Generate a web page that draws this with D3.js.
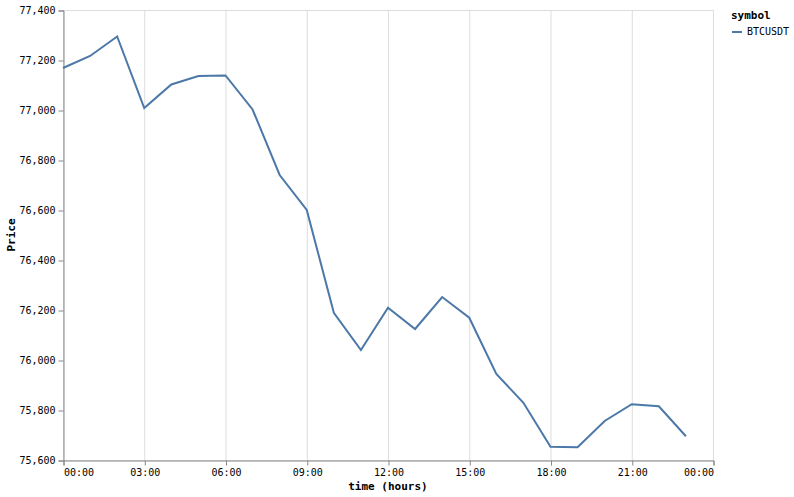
<!DOCTYPE html>
<html><head><meta charset="utf-8">
<script src="https://cdn.jsdelivr.net/npm/d3@7"></script>
<style>body{margin:0;background:#fff}svg{display:block}text{font-family:"DejaVu Sans Mono",monospace}</style>
</head><body><svg id="c" width="794" height="497"></svg>
<script>
const hours = [0,1,2,3,4,5,6,7,8,9,10,11,12,13,14,15,16,17,18,19,20,21,22,23];
const prices = [77168,77216,77294,77008,77102,77136,77138,77002,76740,76600,76189,76040,76209,76124,76252,76169,75944,75829,75653,75651,75756,75823,75815,75695];
const symbols = ["BTCUSDT"];
const yTicks = [75600,75800,76000,76200,76400,76600,76800,77000,77200,77400];
const xTickHours = [0,3,6,9,12,15,18,21,24];

const svg = d3.select("#c");
const m = {l:63, t:10, w:650, h:450};
const x = d3.scaleLinear().domain([0,24]).range([m.l, m.l+m.w]);
const y = d3.scaleLinear().domain([75600,77400]).range([m.t+m.h, m.t]);

// view border
svg.append("rect").attr("x",m.l+0.5).attr("y",m.t+0.5).attr("width",m.w).attr("height",m.h)
  .attr("fill","none").attr("stroke","#ddd");

// vertical grid
svg.append("g").selectAll("line").data(xTickHours).join("line")
  .attr("x1",d=>x(d)+0.5).attr("x2",d=>x(d)+0.5).attr("y1",m.t).attr("y2",m.t+m.h)
  .attr("stroke","#ddd");

// x axis
const fmtH = d => String(d%24).padStart(2,"0")+":00";
const gx = svg.append("g").attr("transform",`translate(0.5,${m.t+m.h+0.5})`)
  .call(d3.axisBottom(x).tickValues(xTickHours).tickFormat(fmtH).tickSizeOuter(0).tickSize(5).tickPadding(3));
gx.select(".domain").attr("stroke","#888");
gx.selectAll(".tick line").attr("stroke","#888");
gx.selectAll(".tick text").attr("fill","#000").attr("font-size",10).attr("font-family","DejaVu Sans Mono")
  .attr("text-anchor",(d,i)=> i===0?"start":(i===xTickHours.length-1?"end":"middle"));

// y axis
const gy = svg.append("g").attr("transform",`translate(${m.l+0.5},0.5)`)
  .call(d3.axisLeft(y).tickValues(yTicks).tickFormat(d3.format(",")).tickSizeOuter(0).tickSize(5).tickPadding(3));
gy.select(".domain").attr("stroke","#888");
gy.selectAll(".tick line").attr("stroke","#888");
gy.selectAll(".tick text").attr("fill","#000").attr("font-size",10).attr("font-family","DejaVu Sans Mono")
  .attr("dy","0.32em");

// titles
svg.append("text").attr("x",m.l+m.w/2).attr("y",490).attr("text-anchor","middle")
  .attr("font-size",11).attr("font-weight","bold").text("time (hours)");
svg.append("text").attr("transform",`translate(15,${m.t+m.h/2}) rotate(-90)`).attr("text-anchor","middle")
  .attr("font-size",11).attr("font-weight","bold").text("Price");

// line
const line = d3.line().x((d,i)=>x(hours[i])).y(d=>y(d));
svg.append("path").datum(prices).attr("d",line).attr("fill","none")
  .attr("stroke","#4c78a8").attr("stroke-width",2);

// legend
const lg = svg.append("g").attr("transform","translate(731,0)");
lg.append("text").attr("x",0).attr("y",19).attr("font-size",11).attr("font-weight","bold").text("symbol");
symbols.forEach((s,i)=>{
  lg.append("line").attr("x1",1).attr("x2",11).attr("y1",32+i*16).attr("y2",32+i*16)
    .attr("stroke","#4c78a8").attr("stroke-width",2);
  lg.append("text").attr("x",16).attr("y",35+i*16).attr("font-size",10).text(s);
});
</script></body></html>
